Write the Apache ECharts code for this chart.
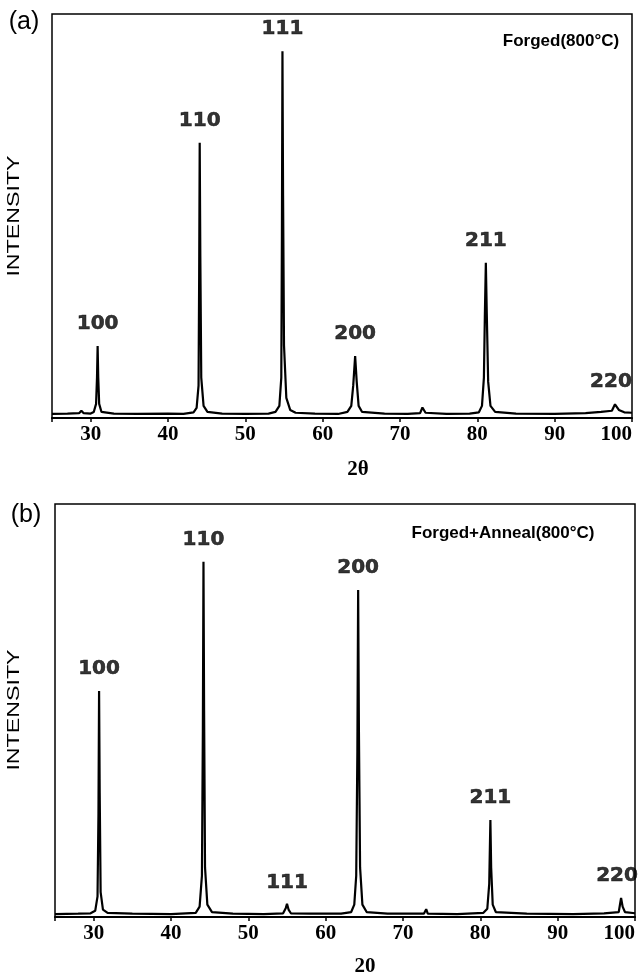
<!DOCTYPE html>
<html>
<head>
<meta charset="utf-8">
<script src="https://cdn.jsdelivr.net/npm/echarts@6/dist/echarts.min.js"></script>
<style>
html,body{margin:0;padding:0;background:#fff;}
#chart{width:641px;height:978px;}
</style>
</head>
<body>
<div id="chart"></div>
<script>
// ---- data: panel (a) Forged(800°C) ----
var traceA = [
  [25.0,1.0],[27.0,1.1],[28.5,1.2],[28.8,1.8],[29.1,1.2],[30.0,1.1],
  [30.4,1.5],[30.7,3.5],[30.82,10],[30.9,17.8],[30.98,10],[31.1,3.5],[31.4,1.5],
  [33.0,1.1],[36.0,1.0],[40.0,1.1],[42.0,1.0],[43.3,1.4],
  [43.7,2.5],[43.95,8],[44.03,35],[44.1,68.1],[44.18,40],[44.3,10],[44.6,3],[45.1,1.5],
  [47.0,1.1],[50.0,1.0],[53.0,1.1],[53.9,1.5],
  [54.4,3],[54.65,10],[54.73,45],[54.8,90.8],[54.88,55],[55.0,18],[55.3,5],[55.8,2],[56.5,1.3],
  [59.0,1.1],[62.0,1.0],[63.2,1.5],
  [63.7,3],[63.95,8],[64.2,15.3],[64.4,9],[64.65,3],[65.1,1.5],
  [68.0,1.1],[71.0,1.0],[72.6,1.2],[72.9,2.6],[73.3,1.3],[76.0,1.0],[79.0,1.1],[80.2,1.4],
  [80.6,3],[80.85,10],[80.97,25],[81.1,38.4],[81.22,26],[81.4,9],[81.7,3],[82.3,1.5],
  [85.0,1.1],[90.0,1.0],[94.0,1.2],[96.0,1.5],[97.4,1.8],
  [97.8,3.4],[98.3,2.0],[99.0,1.4],[100.0,1.3]
];
var peakNamesA = ['100','110','111','200','211','220'];
var peakPosA = [30.9, 44.1, 54.8, 64.2, 81.1, 97.8];
var peakHeightA = [17.8, 68.1, 90.8, 15.3, 38.4, 3.4];

// ---- data: panel (b) Forged+Anneal(800°C) ----
var traceB = [
  [25.0,0.7],[28.0,0.8],[29.6,0.9],
  [30.2,1.5],[30.5,5],[30.62,25],[30.7,54.7],[30.78,30],[30.9,6],[31.2,1.8],[31.8,1.0],
  [35.0,0.8],[40.0,0.7],[43.2,1.0],
  [43.7,2.5],[44.0,10],[44.12,45],[44.2,86.0],[44.28,50],[44.4,12],[44.7,3],[45.3,1.2],
  [48.0,0.8],[52.0,0.7],[54.5,0.9],
  [54.85,2.2],[55.0,3.2],[55.2,1.8],[55.5,0.9],
  [58.0,0.8],[62.0,0.8],[63.3,1.2],
  [63.7,3],[63.95,10],[64.1,40],[64.2,79.2],[64.3,45],[64.45,12],[64.75,3],[65.3,1.2],
  [68.0,0.8],[72.7,0.8],[73.0,1.9],[73.2,0.8],[77.0,0.7],[80.4,1.0],
  [80.9,2],[81.15,8],[81.3,23.5],[81.4,12],[81.6,3],[82.0,1.2],
  [86.0,0.8],[92.0,0.7],[96.0,0.9],[97.9,1.2],
  [98.2,4.6],[98.4,2.5],[98.7,1.2],[100.0,0.9]
];
var peakNamesB = ['100','110','111','200','211','220'];
var peakPosB = [30.7, 44.2, 55.0, 64.2, 81.3, 98.2];
var peakHeightB = [54.7, 86.0, 2.9, 79.2, 23.5, 4.6];

var xMin = 25, xMax = 100;
var titleA = 'Forged(800°C)';
var titleB = 'Forged+Anneal(800°C)';
var xNameA = '2θ';
var xNameB = '20';
var yName = 'INTENSITY';

// ---- build ----
function labelData(names, pos, h) {
  return names.map(function (n, i) {
    var item = { value: [pos[i], h[i]], name: n };
    if (i === names.length - 1) item.label = { offset: [-4, 0] };
    return item;
  });
}
function xAxisCfg(gi) {
  return {
    gridIndex: gi, type: 'value', min: xMin, max: xMax, splitNumber: 8,
    axisLine: { show: true, onZero: false, lineStyle: { color: '#000', width: 2 } },
    axisTick: { show: true, inside: false, length: 4, lineStyle: { color: '#000', width: 1.5 } },
    splitLine: { show: false },
    axisLabel: {
      color: '#000', fontFamily: 'Liberation Serif', fontWeight: 'bold', fontSize: 21, margin: 6,
      alignMaxLabel: 'right',
      formatter: function (v) { return (v % 10 === 0) ? String(v) : ''; }
    }
  };
}
function yAxisCfg(gi) {
  return {
    gridIndex: gi, type: 'value', min: 0, max: 100,
    axisLine: { show: false }, axisTick: { show: false }, axisLabel: { show: false }, splitLine: { show: false }
  };
}
var peakLabelStyle = {
  show: true, position: 'top', distance: 12, formatter: '{b}',
  color: '#000', fontFamily: 'DejaVu Sans', fontWeight: 'bold', fontSize: 20,
  textBorderColor: '#000', textBorderWidth: 0.6
};

var chart = echarts.init(document.getElementById('chart'), null, { renderer: 'canvas' });
chart.setOption({
  animation: false,
  backgroundColor: '#fff',
  grid: [
    { left: 52, right: 9, top: 14, bottom: 560, show: true, borderColor: '#000', borderWidth: 1.5, backgroundColor: 'transparent' },
    { left: 55, right: 6, top: 504, bottom: 61, show: true, borderColor: '#000', borderWidth: 1.5, backgroundColor: 'transparent' }
  ],
  xAxis: [xAxisCfg(0), xAxisCfg(1)],
  yAxis: [yAxisCfg(0), yAxisCfg(1)],
  series: [
    { type: 'line', xAxisIndex: 0, yAxisIndex: 0, data: traceA, showSymbol: false, symbol: 'none',
      lineStyle: { color: '#000', width: 2.2 }, silent: true },
    { type: 'line', xAxisIndex: 1, yAxisIndex: 1, data: traceB, showSymbol: false, symbol: 'none',
      lineStyle: { color: '#000', width: 2.2 }, silent: true },
    { type: 'scatter', xAxisIndex: 0, yAxisIndex: 0, data: labelData(peakNamesA, peakPosA, peakHeightA),
      symbolSize: 0, label: peakLabelStyle, silent: true },
    { type: 'scatter', xAxisIndex: 1, yAxisIndex: 1, data: labelData(peakNamesB, peakPosB, peakHeightB),
      symbolSize: 0, label: peakLabelStyle, silent: true }
  ],
  graphic: [
    { type: 'text', x: 24, y: 22, style: { text: '(a)', fill: '#000', font: '25px "Liberation Sans"', textAlign: 'center', textVerticalAlign: 'middle' } },
    { type: 'text', x: 26, y: 515, style: { text: '(b)', fill: '#000', font: '25px "Liberation Sans"', textAlign: 'center', textVerticalAlign: 'middle' } },
    { type: 'text', x: 561, y: 41, style: { text: titleA, fill: '#000', font: 'bold 17px "Liberation Sans"', textAlign: 'center', textVerticalAlign: 'middle' } },
    { type: 'text', x: 503, y: 533, style: { text: titleB, fill: '#000', font: 'bold 17px "Liberation Sans"', textAlign: 'center', textVerticalAlign: 'middle' } },
    { type: 'text', x: 358, y: 470, style: { text: xNameA, fill: '#000', font: 'bold 21px "Liberation Serif"', textAlign: 'center', textVerticalAlign: 'middle' } },
    { type: 'text', x: 365, y: 967, style: { text: xNameB, fill: '#000', font: 'bold 21px "Liberation Serif"', textAlign: 'center', textVerticalAlign: 'middle' } },
    { type: 'text', x: 15, y: 216, rotation: Math.PI / 2, scaleX: 1.45, style: { text: yName, fill: '#000', font: '16px "Liberation Sans"', textAlign: 'center', textVerticalAlign: 'middle' } },
    { type: 'text', x: 15, y: 710, rotation: Math.PI / 2, scaleX: 1.45, style: { text: yName, fill: '#000', font: '16px "Liberation Sans"', textAlign: 'center', textVerticalAlign: 'middle' } }
  ]
});
</script>
</body>
</html>
